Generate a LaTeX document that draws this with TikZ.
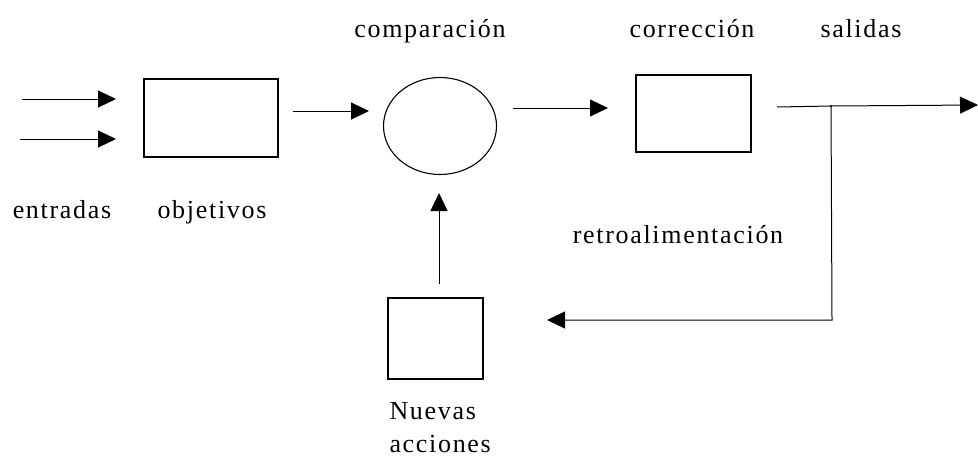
\documentclass[tikz,border=0pt]{standalone}
\usepackage{fontspec}
\setmainfont{Liberation Serif}[LetterSpace=6.5]
\usetikzlibrary{arrows.meta,shapes.geometric}
\begin{document}
\begin{tikzpicture}[x=0.5pt,y=-0.5pt,
  line width=0.5pt,
  box/.style={draw,line width=0.55pt,inner sep=0pt},
  conn/.style={draw,-{Triangle[length=9pt,width=8.5pt]}},
  lbl/.style={font=\fontsize{13}{15}\selectfont,inner sep=0pt,anchor=base}]
\useasboundingbox (0,0) rectangle (978,456);
% boxes
\node[box,minimum width=67pt,minimum height=39pt] (obj) at (211,118) {};
\node[box,ellipse,minimum width=56.5pt,minimum height=48.5pt] (comp) at (440,126) {};
\node[box,minimum width=57.5pt,minimum height=38.5pt] (corr) at (693.5,113.5) {};
\node[box,minimum width=47.5pt,minimum height=40.5pt] (nuev) at (435.5,338.5) {};
% coordinates
\coordinate (in1s) at (22,99);  \coordinate (in1e) at (116,99);
\coordinate (in2s) at (20,139); \coordinate (in2e) at (116,139);
\coordinate (oc1) at (293,111); \coordinate (oc2) at (369,111);
\coordinate (cc1) at (513,108); \coordinate (cc2) at (608,108);
\coordinate (out1) at (777,107); \coordinate (junc) at (831,106); \coordinate (out2) at (978,105);
\coordinate (fb1) at (832,320); \coordinate (fb2) at (547,320);
\coordinate (up1) at (439,284); \coordinate (up2) at (439,193);
% connectors
\draw[conn] (in1s) -- (in1e);
\draw[conn] (in2s) -- (in2e);
\draw[conn] (oc1) -- (oc2);
\draw[conn] (cc1) -- (cc2);
\draw[conn] (out1) -- (junc) -- (out2);
\draw[conn] (junc) -- (fb1) -- (fb2);
\draw[conn] (up1) -- (up2);
\fill (junc) circle (1.2);
% labels
\node[lbl] (lcomp) at (430,37) {comparación};
\node[lbl] (lcorr) at (692,37) {corrección};
\node[lbl] (lsal) at (861,37) {salidas};
\node[lbl] (lent) at (62,218) {entradas};
\node[lbl] (lobj) at (212,218) {objetivos};
\node[lbl] (lret) at (678,243) {retroalimentación};
\node[lbl,anchor=base west] (lnue) at (389,419) {Nuevas};
\node[lbl,anchor=base west] (lacc) at (389,452) {acciones};
\end{tikzpicture}
\end{document}
